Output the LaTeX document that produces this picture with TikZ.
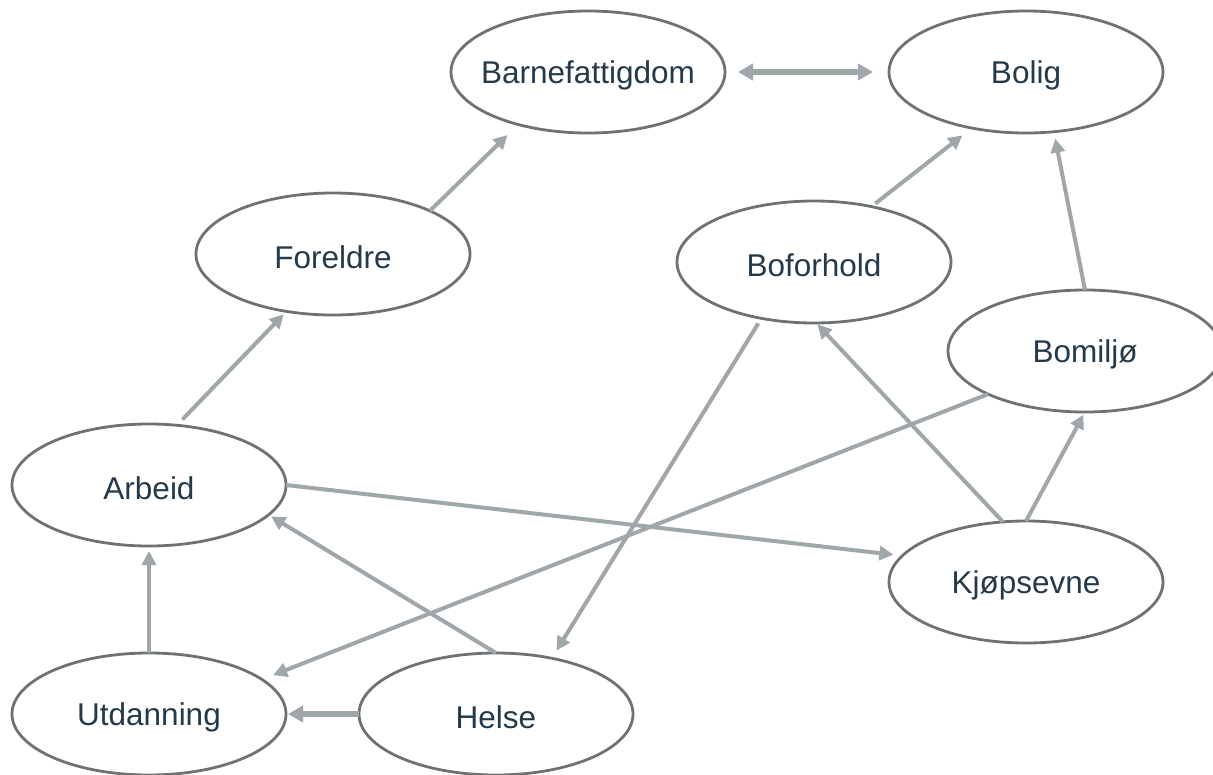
\documentclass[tikz,border=0pt]{standalone}
\usepackage{fontspec}
\setmainfont{Liberation Sans}
\usetikzlibrary{shapes.geometric,arrows.meta}
\definecolor{edgegray}{HTML}{6F7274}
\definecolor{arrowgray}{HTML}{A0A7AA}
\definecolor{textblue}{HTML}{243A4B}
\newcommand{\bubtext}[1]{\makebox[0pt]{\raisebox{-3pt}[\height][\depth]{#1}}}
\tikzset{
  bubble/.style={ellipse, draw=edgegray, line width=2.8pt, fill=white,
    minimum width=274pt, minimum height=122pt, inner sep=0pt, outer sep=0pt,
    text=textblue, font=\fontsize{31.5}{38}\selectfont},
  link/.style={draw=arrowgray, line width=4pt,
    -{Triangle[length=14pt,width=14pt]}},
  boldlink/.style={draw=arrowgray, line width=5.5pt,
    -{Triangle[length=15pt,width=16pt]}},
  twolink/.style={draw=arrowgray, line width=5.5pt,
    {Triangle[length=15pt,width=16pt]}-{Triangle[length=15pt,width=16pt]}}
}
\begin{document}
\begin{tikzpicture}[x=1pt,y=-1pt]
\useasboundingbox (0,0) rectangle (1213,774);
\fill[white] (0,0) rectangle (1213,774);
\node[bubble] (barn) at (588,72) {\bubtext{Barnefattigdom}};
\node[bubble] (bolig) at (1026,72) {\bubtext{Bolig}};
\node[bubble] (foreldre) at (333,254) {\bubtext{Foreldre}};
\node[bubble] (boforhold) at (814,262) {\bubtext{Boforhold}};
\node[bubble] (bomiljo) at (1085,351) {\bubtext{Bomiljø}};
\node[bubble] (arbeid) at (149,485) {\bubtext{Arbeid}};
\node[bubble] (kjop) at (1026,582) {\bubtext{Kjøpsevne}};
\node[bubble] (utd) at (149,714) {\bubtext{Utdanning}};
\node[bubble] (helse) at (496,714) {\bubtext{Helse}};

\draw[twolink, shorten <=13pt, shorten >=16pt] (barn.east) -- (bolig.west);
\draw[link, shorten >=15pt] (foreldre.24) -- (barn.217.8);
\draw[link, shorten <=8pt, shorten >=4pt] (arbeid.65.9) -- (foreldre.231.2);
\draw[link, shorten <=5pt, shorten >=12pt] (boforhold.44) -- (bolig.226.4);
\draw[link, shorten >=7pt] (bomiljo.north) -- (bolig.295.9);
\draw[link, shorten <=6pt, shorten >=9pt] (boforhold.227.4) -- (helse.45);
\draw[link, shorten >=2pt] (kjop.111.5) -- (boforhold.272.7);
\draw[link, shorten >=3pt] (kjop.north) -- (bomiljo.south);
\draw[link, shorten >=12pt] (bomiljo.204.6) -- (utd.17.6);
\draw[link, shorten >=9pt] (arbeid.east) -- (kjop.168.6);
\draw[link, shorten >=3pt] (helse.north) -- (arbeid.346.3);
\draw[link, shorten >=5pt] (utd.north) -- (arbeid.south);
\draw[boldlink, shorten >=2pt] (helse.west) -- (utd.east);
\end{tikzpicture}
\end{document}
